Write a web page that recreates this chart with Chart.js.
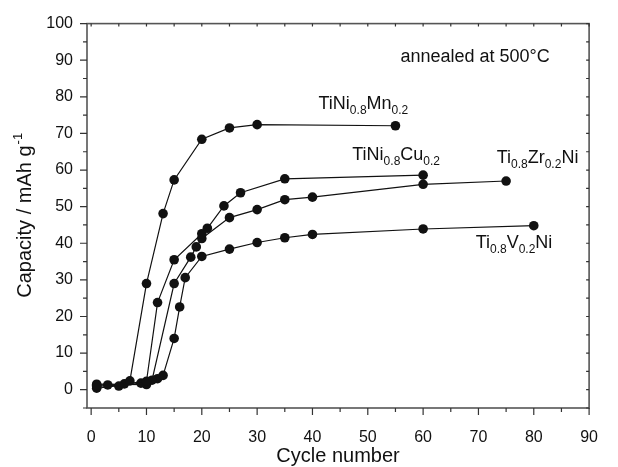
<!DOCTYPE html>
<html>
<head>
<meta charset="utf-8">
<script src="https://cdn.jsdelivr.net/npm/chart.js@4.4.1/dist/chart.umd.min.js"></script>
<style>
  html, body { margin: 0; padding: 0; background: #fff; }
  #wrap { width: 618px; height: 467px; }
</style>
</head>
<body>
<div id="wrap"><canvas id="capChart" width="618" height="467"></canvas></div>
<script>
// values
const mnCycles = [1, 3, 5, 7, 10, 13, 15, 20, 25, 30, 55];
const mnCapacity = [1.2, 1.3, 1.0, 2.4, 29.0, 48.1, 57.3, 68.4, 71.5, 72.4, 72.1];

const cuCycles = [1, 6, 10, 12, 15, 20, 21, 24, 27, 35, 60];
const cuCapacity = [0.8, 1.6, 2.3, 23.8, 35.5, 42.6, 44.1, 50.2, 53.8, 57.6, 58.6];

const zrCycles = [1, 9, 11, 15, 18, 19, 20, 25, 30, 35, 40, 60, 75];
const zrCapacity = [0.4, 1.8, 2.6, 29.0, 36.2, 39.0, 41.3, 47.0, 49.2, 51.9, 52.6, 56.1, 57.0];

const vCycles = [1, 10, 12, 13, 15, 16, 17, 20, 25, 30, 35, 40, 60, 80];
const vCapacity = [1.5, 1.4, 3.0, 3.9, 14.0, 22.6, 30.6, 36.4, 38.4, 40.2, 41.5, 42.4, 43.9, 44.8];

const xTickValues = [0, 10, 20, 30, 40, 50, 60, 70, 80, 90];
const yTickValues = [0, 10, 20, 30, 40, 50, 60, 70, 80, 90, 100];

// series labels: text parts alternate normal / subscript, anchored in data units
const labelParts = [
    ['TiNi', '0.8', 'Mn', '0.2'],
    ['TiNi', '0.8', 'Cu', '0.2'],
    ['Ti', '0.8', 'Zr', '0.2', 'Ni'],
    ['Ti', '0.8', 'V', '0.2', 'Ni']
];
const labelCycles = [41.1, 47.2, 73.3, 69.5];
const labelCapacity = [76.7, 62.7, 61.8, 38.7];

const noteText = 'annealed at 500\u00B0C';
const noteCycle = 55.9;
const noteCapacity = 89.4;

const FONT = '"Liberation Sans", Arial, Helvetica, sans-serif';

function toPoints(xs, ys) {
    return xs.map((x, i) => ({ x: x, y: ys[i] }));
}

function makeSeries(label, xs, ys) {
    return {
        label: label,
        data: toPoints(xs, ys),
        showLine: true,
        borderColor: '#111',
        backgroundColor: '#111',
        borderWidth: 1.2,
        pointRadius: 4.8,
        pointBorderWidth: 0,
        pointHoverRadius: 4.8,
        tension: 0
    };
}

function drawChem(ctx, parts, x, y) {
    let cx = x;
    parts.forEach((p, i) => {
        const sub = i % 2 === 1;
        ctx.font = (sub ? '12px ' : '18px ') + FONT;
        ctx.fillText(p, cx, sub ? y + 5 : y);
        cx += ctx.measureText(p).width;
    });
}

const framePlugin = {
    id: 'frame',
    afterDraw(chart) {
        const { ctx, chartArea: a, scales } = chart;
        const xs = scales.x, ys = scales.y;
        ctx.save();

        // box
        ctx.strokeStyle = '#555';
        ctx.lineWidth = 1.6;
        ctx.strokeRect(a.left, a.top, a.right - a.left, a.bottom - a.top);

        // ticks, majors every 10 and minors every 5
        ctx.lineWidth = 1.2;
        ctx.strokeStyle = '#333';
        for (let v = 0; v <= 90; v += 5) {
            const px = xs.getPixelForValue(v);
            const major = v % 10 === 0;
            ctx.beginPath();
            ctx.moveTo(px, a.bottom);
            ctx.lineTo(px, a.bottom + (major ? 7 : 4));
            ctx.moveTo(px, a.top);
            ctx.lineTo(px, a.top + 3);
            ctx.stroke();
        }
        for (let v = -5; v <= 100; v += 5) {
            const py = ys.getPixelForValue(v);
            const major = v % 10 === 0;
            ctx.beginPath();
            ctx.moveTo(a.left, py);
            ctx.lineTo(a.left - (major ? 7 : 4), py);
            ctx.moveTo(a.right, py);
            ctx.lineTo(a.right - 3, py);
            ctx.stroke();
        }

        // series labels
        ctx.fillStyle = '#111';
        ctx.textAlign = 'left';
        ctx.textBaseline = 'alphabetic';
        labelParts.forEach((parts, i) => {
            drawChem(ctx, parts, xs.getPixelForValue(labelCycles[i]), ys.getPixelForValue(labelCapacity[i]));
        });

        ctx.font = '18px ' + FONT;
        ctx.fillText(noteText, xs.getPixelForValue(noteCycle), ys.getPixelForValue(noteCapacity));

        // x title
        ctx.font = '20px ' + FONT;
        ctx.textAlign = 'center';
        ctx.fillText('Cycle number', (a.left + a.right) / 2, 462);

        // y title with superscript
        const main = 'Capacity / mAh g';
        const sup = '-1';
        ctx.font = '20px ' + FONT;
        const w1 = ctx.measureText(main).width;
        ctx.font = '13px ' + FONT;
        const w2 = ctx.measureText(sup).width;
        ctx.translate(31, (a.top + a.bottom) / 2);
        ctx.rotate(-Math.PI / 2);
        ctx.textAlign = 'left';
        const start = -(w1 + w2) / 2;
        ctx.font = '20px ' + FONT;
        ctx.fillText(main, start, 0);
        ctx.font = '13px ' + FONT;
        ctx.fillText(sup, start + w1 + 1, -9);

        ctx.restore();
    }
};

new Chart(document.getElementById('capChart'), {
    type: 'scatter',
    data: {
        datasets: [
            makeSeries('TiNi0.8Mn0.2', mnCycles, mnCapacity),
            makeSeries('TiNi0.8Cu0.2', cuCycles, cuCapacity),
            makeSeries('Ti0.8Zr0.2Ni', zrCycles, zrCapacity),
            makeSeries('Ti0.8V0.2Ni', vCycles, vCapacity)
        ]
    },
    options: {
        responsive: false,
        animation: false,
        devicePixelRatio: 1,
        layout: { padding: { top: 21, right: 9, left: 0, bottom: 0 } },
        plugins: {
            legend: { display: false },
            tooltip: { enabled: false }
        },
        scales: {
            x: {
                type: 'linear',
                min: -0.75,
                max: 90,
                afterBuildTicks: scale => { scale.ticks = xTickValues.map(v => ({ value: v })); },
                afterFit: scale => { scale.height = 59; },
                grid: { display: false, drawTicks: false },
                border: { display: false },
                ticks: {
                    padding: 20,
                    color: '#111',
                    font: { family: FONT, size: 16 },
                    maxRotation: 0,
                    autoSkip: false
                }
            },
            y: {
                type: 'linear',
                min: -5,
                max: 100,
                afterBuildTicks: scale => { scale.ticks = yTickValues.map(v => ({ value: v })); },
                afterFit: scale => { scale.width = 87; },
                grid: { display: false, drawTicks: false },
                border: { display: false },
                ticks: {
                    padding: 14,
                    color: '#111',
                    font: { family: FONT, size: 16 },
                    autoSkip: false
                }
            }
        }
    },
    plugins: [framePlugin]
});
</script>
</body>
</html>
